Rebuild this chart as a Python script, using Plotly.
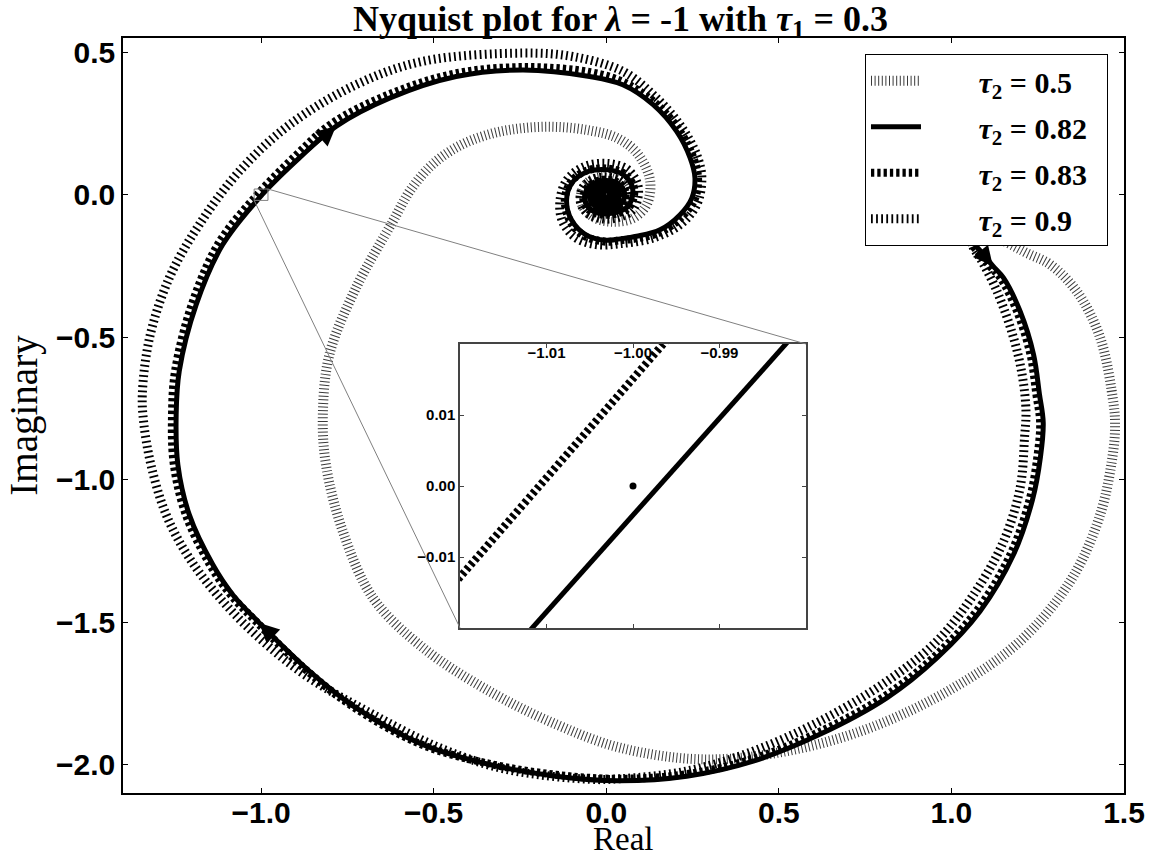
import plotly.graph_objects as go

# ---- Nyquist curves (real / imaginary parts), one pair of arrays per tau2 ----
re_t050 = [1.00, 1.10, 1.209, 1.286, 1.363, 1.431, 1.470, 1.474, 1.470, 1.431, 1.344, 1.199,
           1.006, 0.765, 0.523, 0.281, 0.040, -0.145, -0.338, -0.531, -0.676, -0.763, -0.812,
           -0.821, -0.802, -0.725, -0.618, -0.565, -0.500, -0.420, -0.330, -0.240, -0.145,
           -0.050, 0.030, 0.090, 0.127, 0.117, 0.078, 0.020, -0.035, -0.070, -0.070, -0.045,
           0.000, 0.040, 0.058, 0.050, 0.022, -0.012, -0.040, -0.048, -0.034, -0.005, 0.024,
           0.038, 0.032, 0.010, -0.015, -0.029, -0.026, -0.008, 0.012, 0.022, 0.016, 0.000,
           -0.013, -0.010, 0.002, 0.000]
im_t050 = [0.00, -0.12, -0.199, -0.245, -0.339, -0.502, -0.736, -0.800, -0.889, -1.123, -1.357,
           -1.567, -1.731, -1.871, -1.953, -1.982, -1.941, -1.859, -1.743, -1.590, -1.415,
           -1.182, -0.948, -0.772, -0.561, -0.327, -0.093, 0.020, 0.110, 0.175, 0.215, 0.234,
           0.238, 0.226, 0.200, 0.145, 0.050, -0.035, -0.082, -0.095, -0.080, -0.035, 0.015,
           0.050, 0.062, 0.045, 0.010, -0.028, -0.050, -0.052, -0.032, 0.000, 0.030, 0.042,
           0.032, 0.006, -0.022, -0.036, -0.032, -0.012, 0.013, 0.026, 0.022, 0.004, -0.014,
           -0.020, -0.010, 0.006, 0.010, 0.000]

re_t082 = [1.000, 1.030, 1.069, 1.093, 1.120, 1.151, 1.199, 1.238, 1.255, 1.266, 1.258, 1.235,
           1.180, 1.083, 0.958, 0.813, 0.619, 0.426, 0.233, 0.035, -0.145, -0.338, -0.531,
           -0.725, -0.860, -1.005, -1.082, -1.140, -1.208, -1.241, -1.246, -1.237, -1.188,
           -1.111, -0.997, -0.889, -0.783, -0.628, -0.435, -0.241, -0.048, 0.048, 0.136, 0.204,
           0.243, 0.257, 0.248, 0.214, 0.156, 0.088, 0.040, 0.000, -0.060, -0.100, -0.115,
           -0.100, -0.060, 0.000, 0.050, 0.075, 0.075, 0.060, 0.030, -0.010, -0.045, -0.062,
           -0.057, -0.035, 0.000, 0.033, 0.052, 0.050, 0.030, 0.000, -0.030, -0.046, -0.042,
           -0.022, 0.005, 0.028, 0.038, 0.032, 0.012, -0.012, -0.030, -0.032, -0.018, 0.004,
           0.022, 0.026, 0.016, -0.002, -0.018, -0.020, -0.010, 0.006, 0.016, 0.013, 0.000,
           -0.010, -0.008, 0.002, 0.006, 0.000]
im_t082 = [0.000, -0.080, -0.175, -0.210, -0.250, -0.292, -0.409, -0.561, -0.700, -0.800,
           -0.920, -1.070, -1.263, -1.462, -1.626, -1.766, -1.894, -1.988, -2.041, -2.057,
           -2.041, -2.000, -1.930, -1.801, -1.672, -1.503, -1.404, -1.298, -1.123, -0.948,
           -0.771, -0.619, -0.386, -0.175, 0.000, 0.129, 0.240, 0.339, 0.415, 0.438, 0.415,
           0.386, 0.316, 0.222, 0.129, 0.059, -0.012, -0.070, -0.123, -0.146, -0.155, -0.160,
           -0.140, -0.090, -0.020, 0.040, 0.078, 0.088, 0.070, 0.030, -0.010, -0.045, -0.062,
           -0.066, -0.052, -0.020, 0.015, 0.040, 0.050, 0.040, 0.012, -0.020, -0.044, -0.052,
           -0.042, -0.015, 0.015, 0.034, 0.038, 0.026, 0.003, -0.022, -0.036, -0.036, -0.020,
           0.004, 0.024, 0.028, 0.016, -0.004, -0.022, -0.026, -0.016, 0.004, 0.017, 0.018,
           0.006, -0.010, -0.015, -0.007, 0.006, 0.008, 0.000, 0.000]

re_t083 = [1.000, 1.025, 1.060, 1.084, 1.111, 1.142, 1.190, 1.229, 1.246, 1.257, 1.249, 1.227,
           1.172, 1.076, 0.952, 0.808, 0.615, 0.423, 0.232, 0.035, -0.145, -0.340, -0.535,
           -0.730, -0.868, -1.013, -1.091, -1.150, -1.219, -1.253, -1.258, -1.249, -1.200,
           -1.123, -1.011, -0.900, -0.795, -0.638, -0.440, -0.241, -0.045, 0.052, 0.142, 0.212,
           0.252, 0.266, 0.257, 0.221, 0.160, 0.090, 0.040, 0.000, -0.063, -0.105, -0.120,
           -0.104, -0.062, 0.000, 0.052, 0.079, 0.079, 0.063, 0.032, -0.010, -0.048, -0.066,
           -0.060, -0.037, 0.000, 0.035, 0.055, 0.053, 0.032, 0.000, -0.032, -0.049, -0.045,
           -0.024, 0.005, 0.030, 0.040, 0.034, 0.013, -0.013, -0.032, -0.034, -0.019, 0.004,
           0.023, 0.028, 0.017, -0.002, -0.019, -0.021, -0.011, 0.006, 0.017, 0.014, 0.000,
           -0.011, 0.000]
im_t083 = [0.000, -0.080, -0.175, -0.210, -0.250, -0.292, -0.409, -0.561, -0.700, -0.800,
           -0.920, -1.068, -1.260, -1.456, -1.620, -1.759, -1.887, -1.981, -2.034, -2.050,
           -2.036, -1.997, -1.930, -1.800, -1.670, -1.500, -1.400, -1.295, -1.120, -0.945,
           -0.770, -0.617, -0.383, -0.170, 0.000, 0.137, 0.250, 0.348, 0.425, 0.448, 0.430,
           0.394, 0.322, 0.226, 0.131, 0.059, -0.014, -0.075, -0.130, -0.153, -0.160, -0.165,
           -0.145, -0.092, -0.020, 0.042, 0.082, 0.092, 0.074, 0.031, -0.011, -0.048, -0.066,
           -0.070, -0.055, -0.021, 0.016, 0.042, 0.053, 0.042, 0.013, -0.021, -0.047, -0.055,
           -0.044, -0.016, 0.016, 0.036, 0.040, 0.028, 0.003, -0.023, -0.038, -0.038, -0.021,
           0.004, 0.025, 0.030, 0.017, -0.004, -0.023, -0.028, -0.017, 0.004, 0.018, 0.019,
           0.006, -0.011, -0.016, -0.007, 0.000]

re_t090 = [1.000, 1.040, 1.064, 1.083, 1.132, 1.180, 1.206, 1.216, 1.212, 1.199, 1.151, 1.064,
           0.958, 0.813, 0.619, 0.426, 0.233, 0.040, -0.048, -0.290, -0.483, -0.676, -0.860,
           -0.995, -1.111, -1.208, -1.275, -1.319, -1.340, -1.344, -1.323, -1.266, -1.179,
           -1.063, -0.918, -0.725, -0.532, -0.241, -0.097, 0.048, 0.136, 0.214, 0.262, 0.277,
           0.262, 0.214, 0.136, 0.040, -0.030, -0.090, -0.128, -0.134, -0.115, -0.065, 0.000,
           0.060, 0.090, 0.092, 0.075, 0.035, -0.010, -0.055, -0.075, -0.070, -0.042, 0.000,
           0.040, 0.062, 0.060, 0.036, 0.000, -0.036, -0.055, -0.050, -0.027, 0.005, 0.034,
           0.045, 0.038, 0.015, -0.015, -0.036, -0.038, -0.021, 0.004, 0.026, 0.031, 0.019,
           -0.002, -0.021, -0.023, -0.012, 0.007, 0.019, 0.015, 0.000, -0.012, 0.000]
im_t090 = [0.000, -0.100, -0.187, -0.222, -0.339, -0.502, -0.640, -0.760, -0.850, -1.029,
           -1.217, -1.404, -1.567, -1.708, -1.848, -1.953, -2.023, -2.050, -2.052, -2.017,
           -1.941, -1.824, -1.696, -1.567, -1.427, -1.275, -1.123, -0.948, -0.800, -0.700,
           -0.502, -0.292, -0.105, 0.082, 0.245, 0.386, 0.468, 0.497, 0.485, 0.433, 0.351,
           0.245, 0.140, 0.059, -0.035, -0.105, -0.152, -0.172, -0.175, -0.150, -0.090,
           -0.020, 0.050, 0.098, 0.110, 0.090, 0.040, -0.010, -0.055, -0.080, -0.085, -0.065,
           -0.025, 0.020, 0.052, 0.062, 0.050, 0.015, -0.025, -0.054, -0.062, -0.050, -0.018,
           0.018, 0.041, 0.046, 0.032, 0.003, -0.026, -0.043, -0.043, -0.024, 0.005, 0.028,
           0.034, 0.019, -0.005, -0.026, -0.031, -0.019, 0.005, 0.020, 0.021, 0.007, -0.012,
           -0.018, -0.008, 0.000]

# ---- magnified view around the critical point ----
inset_re_t082 = [-1.0190, -0.9750]
inset_im_t082 = [-0.0300, 0.0300]
inset_re_t083 = [-1.0250, -0.9940]
inset_im_t083 = [-0.0198, 0.0235]
critical_re = [-1.0]
critical_im = [0.0]

tau2_labels = ["0.5", "0.82", "0.83", "0.9"]

# ---- axes / layout constants ----
X_RANGE = [-1.4, 1.5]
Y_RANGE = [-2.1, 0.55]
INSET_X_RANGE = [-1.02, -0.98]
INSET_Y_RANGE = [-0.02, 0.02]
INSET_DOM_X = [0.3367, 0.6823]
INSET_DOM_Y = [0.2185, 0.5947]

styles = [
    dict(width=10, dash="1px,2.6px", color="#3a3a3a"),
    dict(width=5, dash="solid", color="black"),
    dict(width=8, dash="3.3px,3px", color="black"),
    dict(width=9, dash="1.8px,3.3px", color="black"),
]
curves = [(re_t050, im_t050), (re_t082, im_t082), (re_t083, im_t083), (re_t090, im_t090)]

NB = "&nbsp;"
fig = go.Figure()
for (xs, ys), lab, st in zip(curves, tau2_labels, styles):
    fig.add_trace(go.Scatter(
        x=xs, y=ys, mode="lines", line_shape="spline",
        line=dict(color=st["color"], width=st["width"], dash=st["dash"]),
        name=NB * 7 + "<i>τ</i><sub>2</sub> = " + lab + NB * 2, legendgroup=lab,
        xaxis="x", yaxis="y", hoverinfo="skip"))

# inset traces
fig.add_trace(go.Scatter(x=inset_re_t082, y=inset_im_t082, mode="lines",
                         line=dict(color="black", width=styles[1]["width"]),
                         xaxis="x2", yaxis="y2", showlegend=False, hoverinfo="skip"))
fig.add_trace(go.Scatter(x=inset_re_t083, y=inset_im_t083, mode="lines",
                         line=dict(color="black", width=styles[2]["width"], dash=styles[2]["dash"]),
                         xaxis="x2", yaxis="y2", showlegend=False, hoverinfo="skip"))
fig.add_trace(go.Scatter(x=critical_re, y=critical_im, mode="markers",
                         marker=dict(color="black", size=7),
                         xaxis="x2", yaxis="y2", showlegend=False, hoverinfo="skip"))

# direction arrows on the tau2=0.82 curve (tail -> head along the data)
annotations = []
for i_tail, i_head in [(3, 4), (35, 36), (24, 25)]:
    annotations.append(dict(
        x=re_t082[i_head], y=im_t082[i_head], ax=re_t082[i_tail], ay=im_t082[i_tail],
        xref="x", yref="y", axref="x", ayref="y", text="", showarrow=True,
        arrowhead=2, arrowsize=1.3, arrowwidth=3, arrowcolor="black"))

serif = "Liberation Serif"
# x-axis title, placed below the tick labels
annotations.append(dict(text="Real", xref="paper", yref="paper", x=0.4995, y=-0.0609,
                        xanchor="center", yanchor="middle", showarrow=False,
                        font=dict(family=serif, size=33, color="black")))


def paper_to_data(fx, fy):
    return (X_RANGE[0] + fx * (X_RANGE[1] - X_RANGE[0]),
            Y_RANGE[0] + fy * (Y_RANGE[1] - Y_RANGE[0]))


tr = paper_to_data(INSET_DOM_X[1], INSET_DOM_Y[1])
bl = paper_to_data(INSET_DOM_X[0], INSET_DOM_Y[0])
shapes = [
    dict(type="rect", xref="x", yref="y", x0=INSET_X_RANGE[0], x1=INSET_X_RANGE[1],
         y0=INSET_Y_RANGE[0], y1=INSET_Y_RANGE[1], line=dict(color="#808080", width=1)),
    dict(type="line", xref="x", yref="y", x0=INSET_X_RANGE[1], y0=INSET_Y_RANGE[1],
         x1=tr[0], y1=tr[1], line=dict(color="#808080", width=1)),
    dict(type="line", xref="x", yref="y", x0=INSET_X_RANGE[0], y0=INSET_Y_RANGE[0],
         x1=bl[0], y1=bl[1], line=dict(color="#808080", width=1)),
]

tick_font = dict(family="Liberation Sans", size=30, color="black", weight="bold")
inset_font = dict(family="Liberation Sans", size=15, color="black", weight="bold")

fig.update_layout(
    width=1160, height=859,
    margin=dict(l=123, r=36, t=38, b=66, autoexpand=False),
    paper_bgcolor="white", plot_bgcolor="white",
    title=dict(text="<b>Nyquist plot for <i>λ</i> = -1 with <i>τ</i><sub>1</sub> = 0.3</b>",
               x=0.535, xanchor="center", y=1 - 18 / 859, yanchor="middle",
               font=dict(family=serif, size=36, color="black")),
    xaxis=dict(range=X_RANGE, domain=[0, 1], anchor="y", dtick=0.5, tick0=0,
               tickformat=".1f", ticks="inside", ticklen=5, tickcolor="black",
               showline=True, linecolor="black", linewidth=1.5, mirror="allticks",
               showgrid=False, zeroline=False, tickfont=tick_font, ticklabelstandoff=-8,
               automargin=False),
    yaxis=dict(range=Y_RANGE, domain=[0, 1], anchor="x", dtick=0.5, tick0=0,
               tickformat=".1f", ticks="inside", ticklen=5, tickcolor="black",
               showline=True, linecolor="black", linewidth=1.5, mirror="allticks",
               showgrid=False, zeroline=False, tickfont=tick_font, automargin=False,
               title=dict(text="Imaginary", font=dict(family=serif, size=39, color="black"),
                          standoff=6)),
    xaxis2=dict(range=INSET_X_RANGE, domain=INSET_DOM_X, anchor="y2", side="top",
                tickvals=[-1.01, -1.00, -0.99], tickformat=".2f",
                ticks="inside", ticklen=4, tickcolor="#444", ticklabelposition="inside",
                showline=True, linecolor="#444", linewidth=1.5, mirror="allticks",
                showgrid=False, zeroline=False, tickfont=inset_font, automargin=False),
    yaxis2=dict(range=INSET_Y_RANGE, domain=INSET_DOM_Y, anchor="x2",
                tickvals=[-0.01, 0.00, 0.01], tickformat=".2f",
                ticks="inside", ticklen=4, tickcolor="#444",
                showline=True, linecolor="#444", linewidth=1.5, mirror="allticks",
                showgrid=False, zeroline=False, tickfont=inset_font, automargin=False),
    legend=dict(x=0.984, xanchor="right", y=0.979, yanchor="top",
                bgcolor="white", bordercolor="black", borderwidth=1,
                font=dict(family=serif, size=30, color="black", weight="bold"),
                itemwidth=50, tracegroupgap=4),
    showlegend=True,
    shapes=shapes,
    annotations=annotations,
)

fig.write_html("out.html")
